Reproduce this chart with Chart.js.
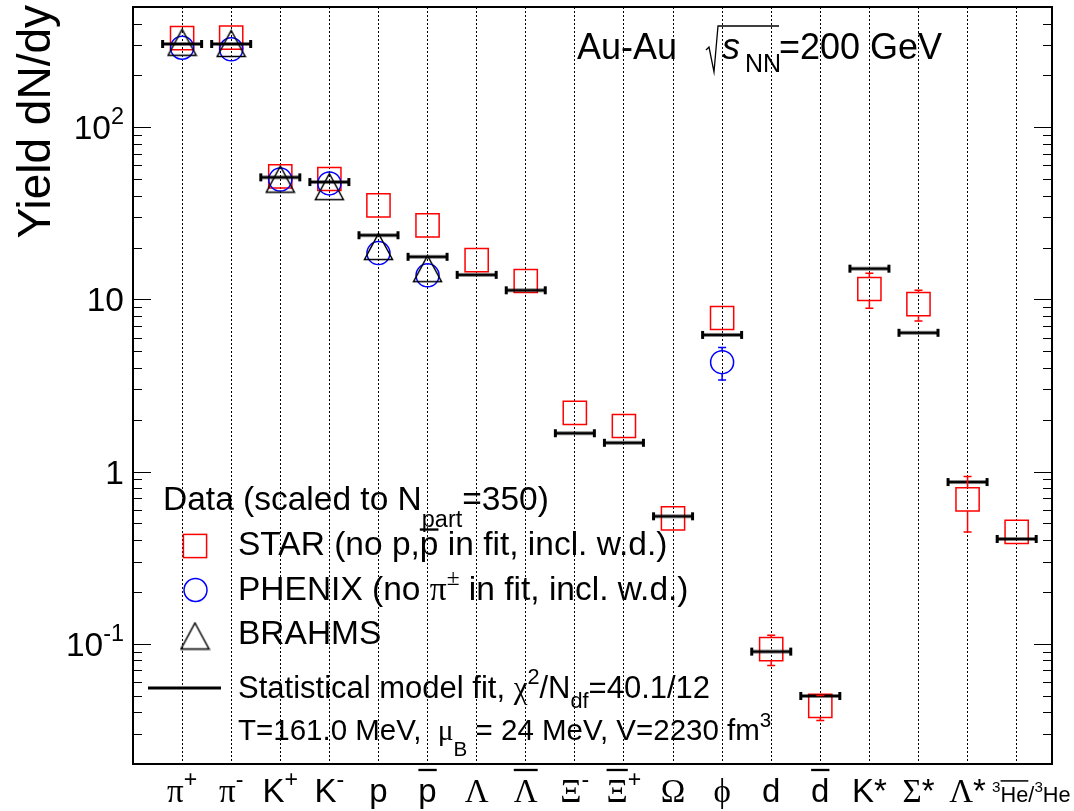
<!DOCTYPE html>
<html>
<head>
<meta charset="utf-8">
<title>Particle yields, Au-Au 200 GeV</title>
<script src="https://cdn.jsdelivr.net/npm/chart.js@4.4.1/dist/chart.umd.min.js"></script>
<style>
  html, body { margin: 0; padding: 0; background: #ffffff; }
  canvas { display: block; }
</style>
</head>
<body>
<canvas id="yields" width="1074" height="811"></canvas>
<script>
// Particle species (TLatex-like markup, rendered by drawTex below)
const categories = ['#pi^{+}', '#pi^{-}', 'K^{+}', 'K^{-}', 'p', '#bar{p}', '#Lambda', '#bar{#Lambda}',
  '#Xi^{-}', '#bar{#Xi}^{+}', '#Omega', '#phi', 'd', '#bar{d}', 'K*', '#Sigma*', '#Lambda*',
  '^{3}#bar{He}/^{3}He'];

// Measured yields dN/dy (scaled to Npart = 350); null = not measured
const starYield    = [330, 332, 51.9, 50.1, 35.2, 26.9, 16.9, 12.8, 2.19, 1.84, 0.535, 7.8,
                      0.093, 0.0435, 11.5, 9.4, 0.69, 0.446];
const starErrHi    = [null, null, null, null, null, null, null, null, null, null, null, null,
                      0.112, 0.050, 14.2, 11.3, 0.937, null];
const starErrLo    = [null, null, null, null, null, null, null, null, null, null, null, null,
                      0.0748, 0.0358, 8.9, 7.5, 0.445, null];
const phenixYield  = [290, 284, 49.7, 47.2, 18.6, 13.8, null, null, null, null, null, 4.32,
                      null, null, null, null, null, null];
const phenixErrHi  = [null, null, null, null, null, null, null, null, null, null, null, 5.25,
                      null, null, null, null, null, null];
const phenixErrLo  = [null, null, null, null, null, null, null, null, null, null, null, 3.40,
                      null, null, null, null, null, null];
const brahmsYield  = [312, 307, 50.0, 45.2, 20.3, 15.1, null, null, null, null, null, null,
                      null, null, null, null, null, null];
// Statistical model fit (T = 161.0 MeV, muB = 24 MeV, V = 2230 fm^3)
const modelYield   = [305, 305, 51.2, 48.1, 23.6, 17.7, 13.9, 11.3, 1.67, 1.47, 0.55, 6.22,
                      0.090, 0.0497, 15.1, 6.4, 0.869, 0.406];

// Y axis major ticks and their labels
const yTickValues = [0.1, 1, 10, 100];
const yTickLabels = ['10^{-1}', '1', '10', '10^{2}'];

const SANS = '"Liberation Sans", Arial, Helvetica, sans-serif';
const SERIF = '"Liberation Serif", "DejaVu Serif", serif';
const GREEK = { pi: 'π', Lambda: 'Λ', Xi: 'Ξ', Omega: 'Ω', phi: 'ϕ', Sigma: 'Σ', chi: 'χ', mu: 'μ', pm: '±' };

// --- tiny TLatex-style parser: ^{..} superscript, _{..} subscript, #bar{..}, #greek ---
function parseTex(s) {
  let i = 0;
  function group() {
    const out = [];
    while (i < s.length && s[i] !== '}') {
      const c = s[i];
      if (c === '^' || c === '_') {
        i++;
        let kids;
        if (s[i] === '{') { i++; kids = group(); i++; } else { kids = [{ t: s[i++] }]; }
        out.push({ k: c === '^' ? 'sup' : 'sub', kids });
      } else if (c === '#') {
        const m = /^#([A-Za-z]+)/.exec(s.slice(i));
        i += m[0].length;
        if (m[1] === 'bar') { i++; const kids = group(); i++; out.push({ k: 'bar', kids }); }
        else out.push({ t: GREEK[m[1]] || m[1], greek: true });
      } else {
        let j = i;
        while (j < s.length && '^_#}'.indexOf(s[j]) < 0) j++;
        out.push({ t: s.slice(i, j) });
        i = j;
      }
    }
    return out;
  }
  return group();
}

function texRun(ctx, nodes, x, y, size, draw, opt) {
  let cx = x;
  for (const n of nodes) {
    if (n.k === 'sup') {
      cx += texRun(ctx, n.kids, cx, y - size * 0.45, size * 0.7, draw, opt);
    } else if (n.k === 'sub') {
      cx += texRun(ctx, n.kids, cx, y + size * opt.subDrop, size * 0.7, draw, opt);
    } else if (n.k === 'bar') {
      const w = texRun(ctx, n.kids, cx, y, size, draw, opt);
      if (draw) {
        ctx.save();
        ctx.strokeStyle = ctx.fillStyle;
        ctx.lineWidth = Math.max(1.3, size * 0.07);
        ctx.beginPath();
        ctx.moveTo(cx, y - size * opt.barLift);
        ctx.lineTo(cx + w, y - size * opt.barLift);
        ctx.stroke();
        ctx.restore();
      }
      cx += w;
    } else {
      ctx.font = size + 'px ' + (n.greek ? SERIF : SANS);
      const w = ctx.measureText(n.t).width;
      if (draw) ctx.fillText(n.t, cx, y);
      cx += w;
    }
  }
  return cx - x;
}

const TEX_DEFAULTS = { barLift: 0.97, subDrop: 0.32 };

function texWidth(ctx, s, size) {
  return texRun(ctx, parseTex(s), 0, 0, size, false, TEX_DEFAULTS);
}

function drawTex(ctx, s, x, y, size, align, options) {
  const opt = Object.assign({}, TEX_DEFAULTS, options || {});
  const nodes = parseTex(s);
  ctx.textAlign = 'left';
  ctx.textBaseline = 'alphabetic';
  const w = texRun(ctx, nodes, 0, 0, size, false, opt);
  const x0 = align === 'right' ? x - w : align === 'center' ? x - w / 2 : x;
  texRun(ctx, nodes, x0, y, size, true, opt);
  return w;
}

// --- marker images: open triangle (box centred) and model-fit bar with end caps ---
function makeTriangle() {
  const c = document.createElement('canvas');
  c.width = 31; c.height = 29;
  const g = c.getContext('2d');
  g.strokeStyle = '#000'; g.lineWidth = 1.5;
  g.beginPath();
  g.moveTo(15.5, 1.5); g.lineTo(29.5, 27.5); g.lineTo(1.5, 27.5); g.closePath();
  g.stroke();
  return c;
}
function makeFitBar() {
  const c = document.createElement('canvas');
  c.width = 44; c.height = 10;
  const g = c.getContext('2d');
  g.fillStyle = '#000';
  g.fillRect(2, 3.5, 40, 3);
  g.fillRect(1, 1, 3, 8);
  g.fillRect(40, 1, 3, 8);
  return c;
}
const triangleImg = makeTriangle();
const fitBarImg = makeFitBar();

function toPoints(arr) {
  const pts = [];
  arr.forEach((v, i) => { if (v !== null) pts.push({ x: i, y: v }); });
  return pts;
}

// --- error bars, drawn outside the marker body ---
const errorBarPlugin = {
  id: 'errorBars',
  afterDatasetsDraw(chart) {
    const ctx = chart.ctx;
    const xs = chart.scales.x, ys = chart.scales.y;
    chart.data.datasets.forEach(ds => {
      if (!ds.errorBars) return;
      const { lo, hi, values, half } = ds.errorBars;
      ctx.save();
      ctx.strokeStyle = ds.borderColor;
      ctx.lineWidth = 1.5;
      values.forEach((v, i) => {
        if (v === null || hi[i] === null || lo[i] === null) return;
        const x = xs.getPixelForValue(i);
        const yc = ys.getPixelForValue(v);
        const yh = ys.getPixelForValue(hi[i]);
        const yl = ys.getPixelForValue(lo[i]);
        ctx.beginPath();
        if (yh < yc - half) { ctx.moveTo(x, yh); ctx.lineTo(x, yc - half); }
        if (yl > yc + half) { ctx.moveTo(x, yc + half); ctx.lineTo(x, yl); }
        ctx.moveTo(x - 4, yh); ctx.lineTo(x + 4, yh);
        ctx.moveTo(x - 4, yl); ctx.lineTo(x + 4, yl);
        ctx.stroke();
      });
      ctx.restore();
    });
  }
};

// --- frame, inward log ticks, axis labels, legend and header text ---
const decorPlugin = {
  id: 'decor',
  afterDraw(chart) {
    const ctx = chart.ctx;
    const a = chart.chartArea;
    const xs = chart.scales.x, ys = chart.scales.y;
    ctx.save();
    ctx.fillStyle = '#000';
    ctx.strokeStyle = '#000';

    // frame
    ctx.lineWidth = 2;
    ctx.strokeRect(a.left, a.top, a.right - a.left, a.bottom - a.top);

    // inward ticks on both vertical axes
    ctx.lineWidth = 1.2;
    ctx.beginPath();
    for (let e = -2; e <= 2; e++) {
      for (let m = 1; m <= 9; m++) {
        const v = m * Math.pow(10, e);
        if (v < ys.min * 0.999 || v > ys.max * 1.001) continue;
        const y = Math.round(ys.getPixelForValue(v)) + 0.5;
        const len = m === 1 ? 18 : 9;
        ctx.moveTo(a.left, y); ctx.lineTo(a.left + len, y);
        ctx.moveTo(a.right, y); ctx.lineTo(a.right - len, y);
      }
    }
    ctx.stroke();

    // y tick labels
    yTickValues.forEach((v, i) => {
      const y = ys.getPixelForValue(v);
      drawTex(ctx, yTickLabels[i], 124, y + 12, 33.5, 'right');
    });

    // y axis title
    ctx.save();
    ctx.translate(50, 5);
    ctx.rotate(-Math.PI / 2);
    ctx.font = '46px ' + SANS;
    ctx.textAlign = 'right';
    ctx.textBaseline = 'alphabetic';
    ctx.fillText('Yield dN/dy', 0, 0);
    ctx.restore();

    // x category labels (wide labels are shrunk and nudged to the right)
    const spacing = xs.getPixelForValue(1) - xs.getPixelForValue(0);
    categories.forEach((lab, i) => {
      let size = 33;
      let shift = 0;
      const w = texWidth(ctx, lab, size);
      if (w > 1.6 * spacing) {
        size = size * 1.6 * spacing / w;
        shift = 0.3 * spacing;
      }
      drawTex(ctx, lab, xs.getPixelForValue(i) + shift, 802, size, 'center');
    });

    // header: Au-Au  sqrt(s_NN)=200 GeV
    ctx.font = '36px ' + SANS;
    ctx.textAlign = 'left';
    ctx.fillText('Au-Au', 577, 59);
    ctx.lineWidth = 1.3;
    ctx.beginPath();
    ctx.moveTo(706, 50); ctx.lineTo(709, 47); ctx.lineTo(714, 72); ctx.lineTo(718, 26); ctx.lineTo(779, 26);
    ctx.stroke();
    ctx.font = 'italic 36px ' + SANS;
    ctx.fillText('s', 722, 59);
    ctx.font = '25px ' + SANS;
    ctx.fillText('NN', 745, 72);
    ctx.font = '36px ' + SANS;
    ctx.fillText('=200 GeV', 779, 59);

    // legend
    drawTex(ctx, 'Data (scaled to N_{part}=350)', 163, 510, 33.5, 'left', { subDrop: 0.5 });

    ctx.lineWidth = 1.5;
    ctx.strokeStyle = '#ff0000';
    ctx.strokeRect(195 - 11.6, 546 - 11.6, 23.2, 23.2);
    ctx.strokeStyle = '#0000ff';
    ctx.beginPath(); ctx.arc(195.5, 590, 11.5, 0, Math.PI * 2); ctx.stroke();
    ctx.drawImage(triangleImg, 195 - 15.5, 636 - 14.5);
    ctx.fillRect(148, 686.5, 73, 3);
    ctx.strokeStyle = '#000';

    drawTex(ctx, 'STAR (no p,#bar{p} in fit, incl. w.d.)', 238, 555, 33.5, 'left', { barLift: 0.76 });
    drawTex(ctx, 'PHENIX (no #pi^{#pm} in fit, incl. w.d.)', 238, 600, 33.5, 'left');
    drawTex(ctx, 'BRAHMS', 238, 644, 33.5, 'left');
    drawTex(ctx, 'Statistical model fit, #chi^{2}/N_{df}=40.1/12', 238, 698, 31, 'left');
    drawTex(ctx, 'T=161.0 MeV,  #mu_{B} = 24 MeV, V=2230 fm^{3}', 238, 740, 29.5, 'left', { subDrop: 0.55 });

    ctx.restore();
  }
};

new Chart(document.getElementById('yields'), {
  type: 'scatter',
  data: {
    datasets: [
      {
        label: 'Statistical model fit',
        data: toPoints(modelYield),
        pointStyle: fitBarImg,
        pointRadius: 10,
        borderColor: '#000000'
      },
      {
        label: 'BRAHMS',
        data: toPoints(brahmsYield),
        pointStyle: triangleImg,
        pointRadius: 10,
        borderColor: '#000000'
      },
      {
        label: 'PHENIX',
        data: toPoints(phenixYield),
        pointStyle: 'circle',
        pointRadius: 11.5,
        pointBorderWidth: 1.5,
        borderColor: '#0000ff',
        pointBorderColor: '#0000ff',
        pointBackgroundColor: 'rgba(0,0,0,0)',
        errorBars: { values: phenixYield, hi: phenixErrHi, lo: phenixErrLo, half: 11.5 }
      },
      {
        label: 'STAR',
        data: toPoints(starYield),
        pointStyle: 'rect',
        pointRadius: 16.4,
        pointBorderWidth: 1.5,
        borderColor: '#ff0000',
        pointBorderColor: '#ff0000',
        pointBackgroundColor: 'rgba(0,0,0,0)',
        errorBars: { values: starYield, hi: starErrHi, lo: starErrLo, half: 11.6 }
      }
    ]
  },
  options: {
    responsive: false,
    animation: false,
    devicePixelRatio: 1,
    events: [],
    layout: { autoPadding: false, padding: { left: 133, right: 22, top: 7, bottom: 47 } },
    plugins: { legend: { display: false }, tooltip: { enabled: false } },
    scales: {
      x: {
        type: 'linear',
        min: -1,
        max: 17.72,
        afterFit: s => { s.height = 0; },
        afterBuildTicks: s => { s.ticks = categories.map((_, i) => ({ value: i })); },
        ticks: { display: false },
        grid: { color: '#000000', lineWidth: 1, drawTicks: false },
        border: { display: false, dash: [2, 2] }
      },
      y: {
        type: 'logarithmic',
        min: 0.02,
        max: 500,
        afterFit: s => { s.width = 0; },
        ticks: { display: false },
        grid: { display: false },
        border: { display: false }
      }
    }
  },
  plugins: [errorBarPlugin, decorPlugin]
});
</script>
</body>
</html>
